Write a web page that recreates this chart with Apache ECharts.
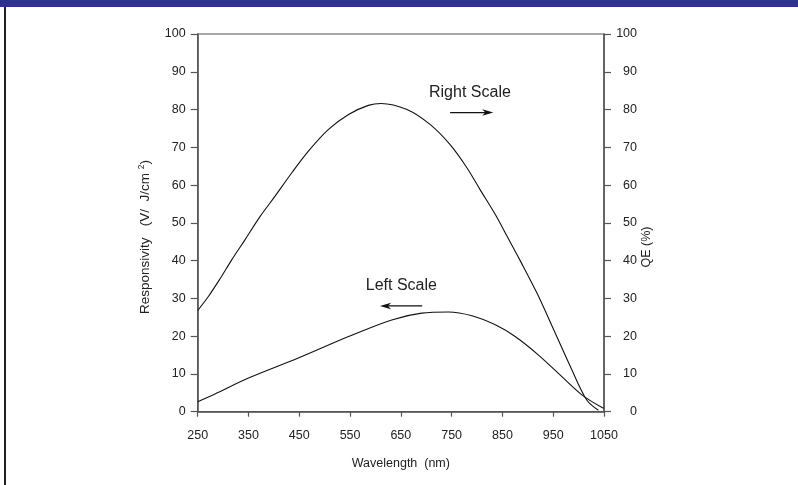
<!DOCTYPE html>
<html>
<head>
<meta charset="utf-8">
<script src="https://cdn.jsdelivr.net/npm/echarts@6/dist/echarts.min.js"></script>
<style>
html,body{margin:0;padding:0;background:#fff;}
#c{width:798px;height:485px;}
</style>
</head>
<body>
<div id="c"></div>
<script>
// ---- data ----
const qeWavelength = [250, 271, 294, 317, 343, 373, 402, 435, 468, 507, 547, 586, 611, 662, 708, 747, 780, 806, 836, 859, 885, 918, 951, 984, 1016, 1039];
const qeValues     = [26.8, 30.5, 35.2, 40.2, 45.5, 51.7, 57.0, 63.2, 69.0, 74.7, 78.7, 81.1, 81.6, 80.0, 76.0, 70.7, 64.6, 58.8, 52.2, 46.5, 40.0, 31.4, 21.7, 11.9, 3.1, 0.4];
const respWavelength = [250, 284, 350, 448, 547, 632, 691, 744, 790, 836, 875, 921, 967, 1007, 1049];
const respValues     = [2.65, 4.7, 8.9, 14.2, 19.9, 24.3, 26.1, 26.4, 25.4, 23.0, 19.9, 15.0, 9.3, 4.4, 0.9];
const xMin = 250, xMax = 1050, xStep = 100;
const yMin = 0, yMax = 100, yStep = 10;
// annotations [wavelength, value]
const rightLabelPos = [786, 84.5];
const rightArrow = [[747, 79.2], [832, 79.2]];
const leftLabelPos = [651, 33.3];
const leftArrow = [[692, 28.0], [609, 28.0]];

const FONT = '"Liberation Sans", Arial, Helvetica, sans-serif';
const axisColor = '#555';
const textColor = '#222';

const chart = echarts.init(document.getElementById('c'));
const pairs = (xs, ys) => xs.map((x, i) => [x, ys[i]]);

chart.setOption({
  animation: false,
  backgroundColor: '#fff',
  textStyle: { fontFamily: FONT },
  grid: { left: 197.7, right: 194, top: 34, bottom: 73.3, show: true, borderColor: axisColor, borderWidth: 1.2, backgroundColor: 'transparent' },
  xAxis: {
    type: 'value', min: xMin, max: xMax, interval: xStep,
    name: 'Wavelength  (nm)', nameLocation: 'middle', nameGap: 45,
    nameTextStyle: { color: textColor, fontSize: 12.5, fontFamily: FONT },
    axisLine: { show: true, lineStyle: { color: axisColor, width: 1.5 } },
    axisTick: { show: true, length: 5, lineStyle: { color: axisColor, width: 1.2 } },
    axisLabel: { color: textColor, fontSize: 12.5, margin: 17, fontFamily: FONT, formatter: v => String(v) },
    splitLine: { show: false }
  },
  yAxis: [
    {
      type: 'value', min: yMin, max: yMax, interval: yStep, position: 'left',
      axisLine: { show: true, lineStyle: { color: axisColor, width: 1.5 } },
      axisTick: { show: true, length: 7, lineStyle: { color: axisColor, width: 1.2 } },
      axisLabel: { color: textColor, fontSize: 12.5, margin: 12, fontFamily: FONT },
      splitLine: { show: false }
    },
    {
      type: 'value', min: yMin, max: yMax, interval: yStep, position: 'right',
      axisLine: { show: true, lineStyle: { color: axisColor, width: 1.5 } },
      axisTick: { show: true, length: 7, lineStyle: { color: axisColor, width: 1.2 } },
      axisLabel: { color: textColor, fontSize: 12.5, margin: 33, align: 'right', fontFamily: FONT },
      splitLine: { show: false }
    }
  ],
  series: [
    {
      name: 'QE', type: 'line', yAxisIndex: 1, smooth: 0.33, showSymbol: false,
      data: pairs(qeWavelength, qeValues),
      lineStyle: { color: '#111', width: 1.1 }
    },
    {
      name: 'Responsivity', type: 'line', yAxisIndex: 0, smooth: 0.33, showSymbol: false,
      data: pairs(respWavelength, respValues),
      lineStyle: { color: '#111', width: 1.1 }
    }
  ]
});

function px(p) { return chart.convertToPixel({ xAxisIndex: 0, yAxisIndex: 0 }, p); }
function arrow(a, b) {
  const p1 = px(a), p2 = px(b);
  const dir = Math.sign(p2[0] - p1[0]);
  return [
    { type: 'line', shape: { x1: p1[0], y1: p1[1], x2: p2[0] - dir * 4, y2: p2[1] }, style: { stroke: '#111', lineWidth: 1.2 }, silent: true },
    { type: 'polygon', shape: { points: [[p2[0], p2[1]], [p2[0] - dir * 11, p2[1] - 3.2], [p2[0] - dir * 8, p2[1]], [p2[0] - dir * 11, p2[1] + 3.2]] }, style: { fill: '#111' }, silent: true }
  ];
}
const rp = px(rightLabelPos), lp = px(leftLabelPos);
chart.setOption({
  graphic: [
    { type: 'rect', left: 0, top: 0, shape: { width: 798, height: 7 }, style: { fill: '#2E3192' }, silent: true },
    { type: 'rect', left: 4, top: 7, shape: { width: 2, height: 478 }, style: { fill: '#222' }, silent: true },
    { type: 'text', x: rp[0], y: rp[1], style: { text: 'Right Scale', fill: textColor, font: '16px ' + FONT, align: 'center', verticalAlign: 'middle' }, silent: true },
    { type: 'text', x: lp[0], y: lp[1], style: { text: 'Left Scale', fill: textColor, font: '16px ' + FONT, align: 'center', verticalAlign: 'middle' }, silent: true },
    { type: 'text', x: 145, y: 237, rotation: Math.PI / 2,
      style: { text: 'Responsivity   (V/  J/cm {sup|2})', fill: textColor, font: '13.5px ' + FONT, align: 'center', verticalAlign: 'middle',
               rich: { sup: { fontSize: 8.5, fontFamily: FONT, fill: textColor, verticalAlign: 'top', padding: [0, 0, 7, 0] } } }, silent: true },
    { type: 'text', x: 647, y: 247, rotation: Math.PI / 2,
      style: { text: 'QE (%)', fill: textColor, font: '12.5px ' + FONT, align: 'center', verticalAlign: 'middle' }, silent: true }
  ].concat(arrow(rightArrow[0], rightArrow[1])).concat(arrow(leftArrow[0], leftArrow[1]))
});
</script>
</body>
</html>
